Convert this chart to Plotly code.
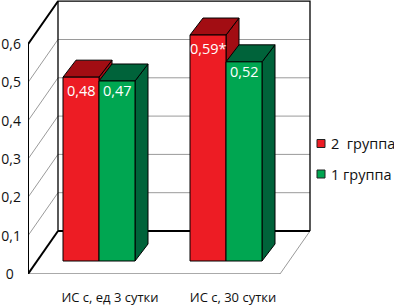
import plotly.graph_objects as go

categories = ["ИС с, ед 3 сутки", "ИС с, 30 сутки"]
group2_name = "2\u00a0\u00a0группа"
group1_name = "1 группа"
group2_values = [0.48, 0.59]
group1_values = [0.47, 0.52]
group2_labels = ["0,48", "0,59*"]
group1_labels = ["0,47", "0,52"]
y_ticks = [0, 0.1, 0.2, 0.3, 0.4, 0.5, 0.6]
y_tick_labels = ["0\u00a0\u00a0", "0,1", "0,2", "0,3", "0,4", "0,5", "0,6"]

W, H = 394, 306
ML, MB = 28, 32
CAT = 126.0          # px per category
VAL = 383.0          # px per value unit
XR = [0, (W - ML) / CAT]
YR = [0, (H - MB) / VAL]
DX, DY = 30 / CAT, 43 / VAL   # oblique offset of the back wall

RED, GREEN = "#ED1C24", "#00A651"
DRED, DGREEN = "#A20D13", "#00633A"
BLACK, GRID = "#000000", "#9a9a9a"
FONT = "Open Sans"


def proj(x, v, d=0.0):
    return x + d * DX, v + d * DY


def line(points, color=BLACK, width=1.0):
    xs, ys = zip(*points)
    return go.Scatter(x=xs, y=ys, mode="lines", line=dict(color=color, width=width),
                      hoverinfo="skip", showlegend=False, cliponaxis=False)


def poly(points, fill):
    xs, ys = zip(*(points + points[:1]))
    return go.Scatter(x=xs, y=ys, mode="lines", fill="toself", fillcolor=fill,
                      line=dict(color=BLACK, width=1), hoverinfo="skip",
                      showlegend=False, cliponaxis=False)


fig = go.Figure()

# gridlines on side and back walls
for v in y_ticks[1:-1]:
    fig.add_trace(line([proj(0, v, 0), proj(0, v, 1), proj(2, v, 1)], GRID, 1))

# floor
fig.add_trace(line([proj(2, 0, 0), proj(2, 0, 1)], GRID, 1))
fig.add_trace(line([proj(0, 0, 0), proj(2, 0, 0)], "#555555", 1))
for x in [0, 1, 2]:
    fig.add_trace(line([(x, 0), (x, -5 / VAL)], GRID, 1))

# walls
top = y_ticks[-1]
fig.add_trace(line([proj(0, 0, 1), proj(0, top, 1), proj(2, top, 1), proj(2, 0, 1)], BLACK, 1.3))
fig.add_trace(line([proj(0, 0, 1), proj(2, 0, 1)], BLACK, 2))
fig.add_trace(line([proj(0, 0, 0), proj(0, 0, 1)], BLACK, 2))
fig.add_trace(line([proj(0, 0, 0), proj(0, top, 0), proj(0, top, 1)], BLACK, 2))
for v in y_ticks:
    fig.add_trace(line([(0, v), (-3 / CAT, v)], BLACK, 1))

# bar geometry
BAR_W = 36.0 / CAT
START = [(63 - 28) / CAT, (190 - 28) / CAT]
BASE = 13 / VAL
DEP_X = 13 / CAT
DEP_Y = 17 / VAL


def box(x0, value, dark):
    x1 = x0 + BAR_W
    b, t = BASE, BASE + value
    side = [(x1, b), (x1 + DEP_X, b + DEP_Y), (x1 + DEP_X, t + DEP_Y), (x1, t)]
    cap = [(x0, t), (x0 + DEP_X, t + DEP_Y), (x1 + DEP_X, t + DEP_Y), (x1, t)]
    fig.add_trace(poly(side, dark))
    fig.add_trace(poly(cap, dark))


for i in range(len(categories)):
    box(START[i], group2_values[i], DRED)
    box(START[i] + BAR_W, group1_values[i], DGREEN)

# front faces sit on an overlaid subplot so they cover the side faces
x2 = [s + BAR_W / 2 for s in START]
x1 = [s + BAR_W * 1.5 for s in START]
fig.add_trace(go.Bar(x=x2, y=group2_values, base=BASE, width=BAR_W, name=group2_name,
                     marker=dict(color=RED, line=dict(color=BLACK, width=1)),
                     xaxis="x2", yaxis="y2", hoverinfo="skip", showlegend=False))
fig.add_trace(go.Bar(x=x1, y=group1_values, base=BASE, width=BAR_W, name=group1_name,
                     marker=dict(color=GREEN, line=dict(color=BLACK, width=1)),
                     xaxis="x2", yaxis="y2", hoverinfo="skip", showlegend=False))

for xs, vals, labs, shifts in [(x2, group2_values, group2_labels, [-13, -13]),
                               (x1, group1_values, group1_labels, [-10, -10])]:
    for x, v, t, s in zip(xs, vals, labs, shifts):
        fig.add_annotation(x=x, y=BASE + v, text=t, showarrow=False, yshift=s,
                           font=dict(family=FONT, size=14.5, color="white"), xref="x", yref="y")

# legend keys, placed by hand so the swatch sits right beside its text
for name, color, py in [(group2_name, RED, 143.5), (group1_name, GREEN, 174)]:
    kx, ky = (321 - ML) / CAT, (H - MB - py) / VAL
    fig.add_trace(go.Scatter(x=[kx], y=[ky], mode="markers", hoverinfo="skip", showlegend=False,
                             marker=dict(symbol="square", size=8, color=color,
                                         line=dict(color="#222222", width=1)),
                             cliponaxis=False))
    fig.add_annotation(x=(328.5 - ML) / CAT, y=ky, text=name, showarrow=False, xanchor="left",
                       font=dict(family=FONT, size=14.5, color="#111111"), xref="x", yref="y")

fig.update_layout(
    width=W, height=H, autosize=False, template=None,
    paper_bgcolor="white", plot_bgcolor="rgba(0,0,0,0)",
    margin=dict(l=ML, r=0, t=0, b=MB, pad=0),
    barmode="overlay",
    font=dict(family=FONT, color="#111111"),
    xaxis=dict(range=XR, showgrid=False, zeroline=False, showline=False, ticks="", automargin=False,
               tickmode="array", tickvals=[(110 - ML) / CAT, (233 - ML) / CAT], ticktext=categories,
               tickfont=dict(family=FONT, size=13), tickangle=0, fixedrange=True,
               ticklabelstandoff=14),
    yaxis=dict(range=YR, showgrid=False, zeroline=False, showline=False, ticks="", automargin=False,
               tickmode="array", tickvals=y_ticks, ticktext=y_tick_labels,
               tickfont=dict(family=FONT, size=14), ticklabelstandoff=6, fixedrange=True),
    xaxis2=dict(range=XR, overlaying="x", visible=False, fixedrange=True),
    yaxis2=dict(range=YR, overlaying="y", visible=False, fixedrange=True),
    showlegend=False,
)
fig.write_html("out.html", config={"displayModeBar": False},
               post_script="document.body.style.margin='0';document.documentElement.style.overflow='hidden';")
